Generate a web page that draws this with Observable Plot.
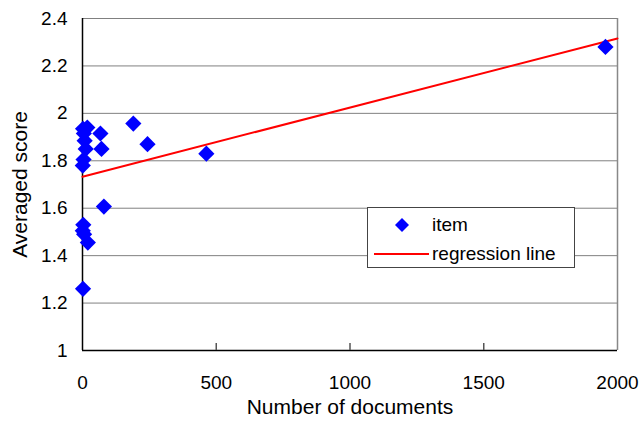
<!DOCTYPE html>
<html>
<head>
<meta charset="utf-8">
<script src="https://cdn.jsdelivr.net/npm/d3@7"></script>
<script src="https://cdn.jsdelivr.net/npm/@observablehq/plot@0.6"></script>
<style>
  html, body { margin: 0; padding: 0; background: #fff; }
  #wrap { position: relative; width: 640px; height: 425px; font-family: "Liberation Sans", Arial, sans-serif; }
  #legend { position: absolute; left: 367px; top: 207px; width: 206px; height: 59px; background: #fff; border: 1.5px solid #444; }
  #legend .row { position: absolute; left: 0; height: 30px; width: 100%; }
  #legend span { position: absolute; left: 64px; font-size: 19px; line-height: 30px; color: #000; white-space: nowrap; }
  #legend svg { position: absolute; left: 0; top: 0; }
</style>
</head>
<body>
<div id="wrap">
  <div id="chart"></div>
  <div id="legend">
    <div class="row" style="top:2px">
      <svg width="64" height="30"><polygon points="34,8 41,15 34,22 27,15" fill="#0000ff"/></svg>
      <span>item</span>
    </div>
    <div class="row" style="top:31px">
      <svg width="64" height="30"><line x1="6" x2="61" y1="15" y2="15" stroke="#ff0000" stroke-width="2"/></svg>
      <span>regression line</span>
    </div>
  </div>
</div>
<script>
// Data
const docCounts = [2, 18, 5, 8, 12, 4, 1, 3, 1, 6, 20, 2, 67, 71, 80, 190, 243, 463, 1955];
const avgScores = [1.935, 1.94, 1.915, 1.885, 1.85, 1.805, 1.78, 1.53, 1.505, 1.49, 1.455, 1.26, 1.915, 1.85, 1.607, 1.957, 1.87, 1.83, 2.28];
const regX = [0, 2000];
const regY = [1.733, 2.316];
const xTicks = [0, 500, 1000, 1500, 2000];
const yTicks = [1, 1.2, 1.4, 1.6, 1.8, 2, 2.2, 2.4];

const points = docCounts.map((d, i) => ({x: d, y: avgScores[i]}));
const reg = regX.map((d, i) => ({x: d, y: regY[i]}));

const chart = Plot.plot({
  width: 640,
  height: 425,
  marginLeft: 82,
  marginRight: 23,
  marginTop: 18,
  marginBottom: 75,
  style: {fontFamily: "Liberation Sans, Arial, sans-serif", background: "#fff", color: "#000"},
  x: {domain: [0, 2000]},
  y: {domain: [1, 2.4]},
  marks: [
    Plot.ruleY(yTicks, {stroke: "#808080", strokeWidth: 1}),
    Plot.ruleX([2000], {stroke: "#888", strokeWidth: 1.5}),
    Plot.ruleX([0], {stroke: "#000", strokeWidth: 1.5}),
    Plot.ruleY([1], {stroke: "#000", strokeWidth: 1.5}),
    Plot.ruleX(xTicks.slice(1, -1), {y1: 1, y2: 1, insetTop: -7, stroke: "#555", strokeWidth: 1.5}),
    Plot.axisX({ticks: xTicks, tickSize: 0, tickPadding: 25, fontSize: 19, tickFormat: d => String(d), label: null}),
    Plot.axisY({ticks: yTicks, tickSize: 0, tickPadding: 15, fontSize: 19, tickFormat: d => String(d), label: null}),
    Plot.text(["Number of documents"], {frameAnchor: "bottom", dy: 63, fontSize: 21, fill: "#000"}),
    Plot.text(["Averaged score"], {frameAnchor: "left", textAnchor: "middle", dx: -62, rotate: -90, fontSize: 21, fill: "#000"}),
    Plot.line(reg, {x: "x", y: "y", stroke: "#ff0000", strokeWidth: 2}),
    Plot.dot(points, {x: "x", y: "y", symbol: "diamond2", r: 7.3, fill: "#0000ff", stroke: "none"})
  ]
});
document.getElementById("chart").appendChild(chart);
</script>
</body>
</html>
